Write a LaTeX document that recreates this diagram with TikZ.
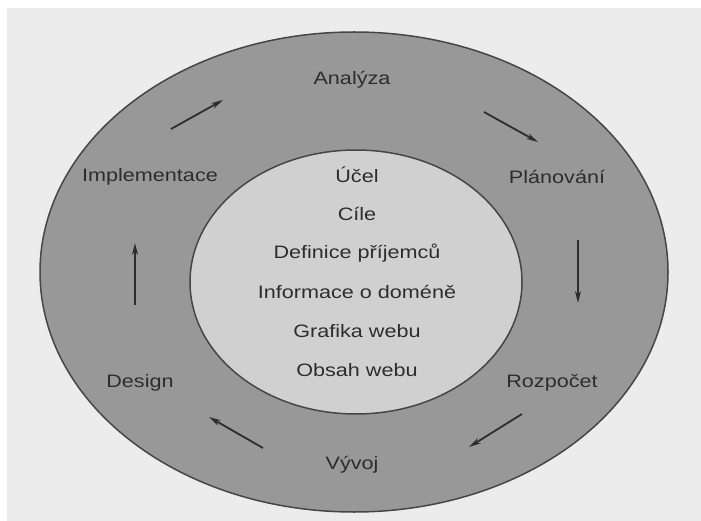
\documentclass[tikz,border=0pt]{standalone}
\usepackage{fontspec}
\setmainfont[FakeStretch=1.2]{Liberation Sans}
\usetikzlibrary{arrows.meta}
\definecolor{bgpage}{RGB}{236,236,236}
\definecolor{outerfill}{RGB}{152,152,152}
\definecolor{innerfill}{RGB}{208,208,208}
\definecolor{rimline}{RGB}{70,70,70}
\definecolor{txt}{RGB}{45,45,45}
\tikzset{
  lbl/.style={font=\fontsize{18}{20}\selectfont, text=txt, inner sep=0pt},
  rim/.style={draw=rimline, line width=1.5pt},
  cyc/.style={draw=txt, line width=1.8pt, -{Stealth[length=12pt,width=6pt]}}
}
\begin{document}
\begin{tikzpicture}[x=1pt,y=-1pt]
\useasboundingbox (0,0) rectangle (701,521);
\fill[white] (0,0) rectangle (701,521);
\fill[bgpage] (7,8) rectangle (701,521);
% ellipses
\fill[outerfill] (354,272) ellipse [x radius=314, y radius=240];
\draw[rim] (354,272) ellipse [x radius=314, y radius=240];
\fill[innerfill] (356,282) ellipse [x radius=166, y radius=132];
\draw[rim] (356,282) ellipse [x radius=166, y radius=132];
% outer labels
\node[lbl] (ana) at (352,80) {Analýza};
\node[lbl] (pla) at (557,177) {Plánování};
\node[lbl] (roz) at (552,383) {Rozpočet};
\node[lbl] (vyv) at (352,465) {Vývoj};
\node[lbl] (des) at (140,383) {Design};
\node[lbl] (imp) at (150,177) {Implementace};
% inner labels
\node[lbl] (ucel) at (357,175) {Účel};
\node[lbl] (cile) at (357,214) {Cíle};
\node[lbl] (def) at (357,253) {Definice příjemců};
\node[lbl] (inf) at (357,292) {Informace o doméně};
\node[lbl] (gra) at (357,331) {Grafika webu};
\node[lbl] (obs) at (357,370) {Obsah webu};
% arrows
\coordinate (a1s) at (171,129); \coordinate (a1e) at (223,100);
\coordinate (a2s) at (484,112); \coordinate (a2e) at (538,142);
\coordinate (a3s) at (578,240); \coordinate (a3e) at (578,303);
\coordinate (a4s) at (522,414); \coordinate (a4e) at (469,447);
\coordinate (a5s) at (263,448); \coordinate (a5e) at (209,417);
\coordinate (a6s) at (135,305); \coordinate (a6e) at (135,243);
\draw[cyc] (a1s) -- (a1e);
\draw[cyc] (a2s) -- (a2e);
\draw[cyc] (a3s) -- (a3e);
\draw[cyc] (a4s) -- (a4e);
\draw[cyc] (a5s) -- (a5e);
\draw[cyc] (a6s) -- (a6e);
\end{tikzpicture}
\end{document}
